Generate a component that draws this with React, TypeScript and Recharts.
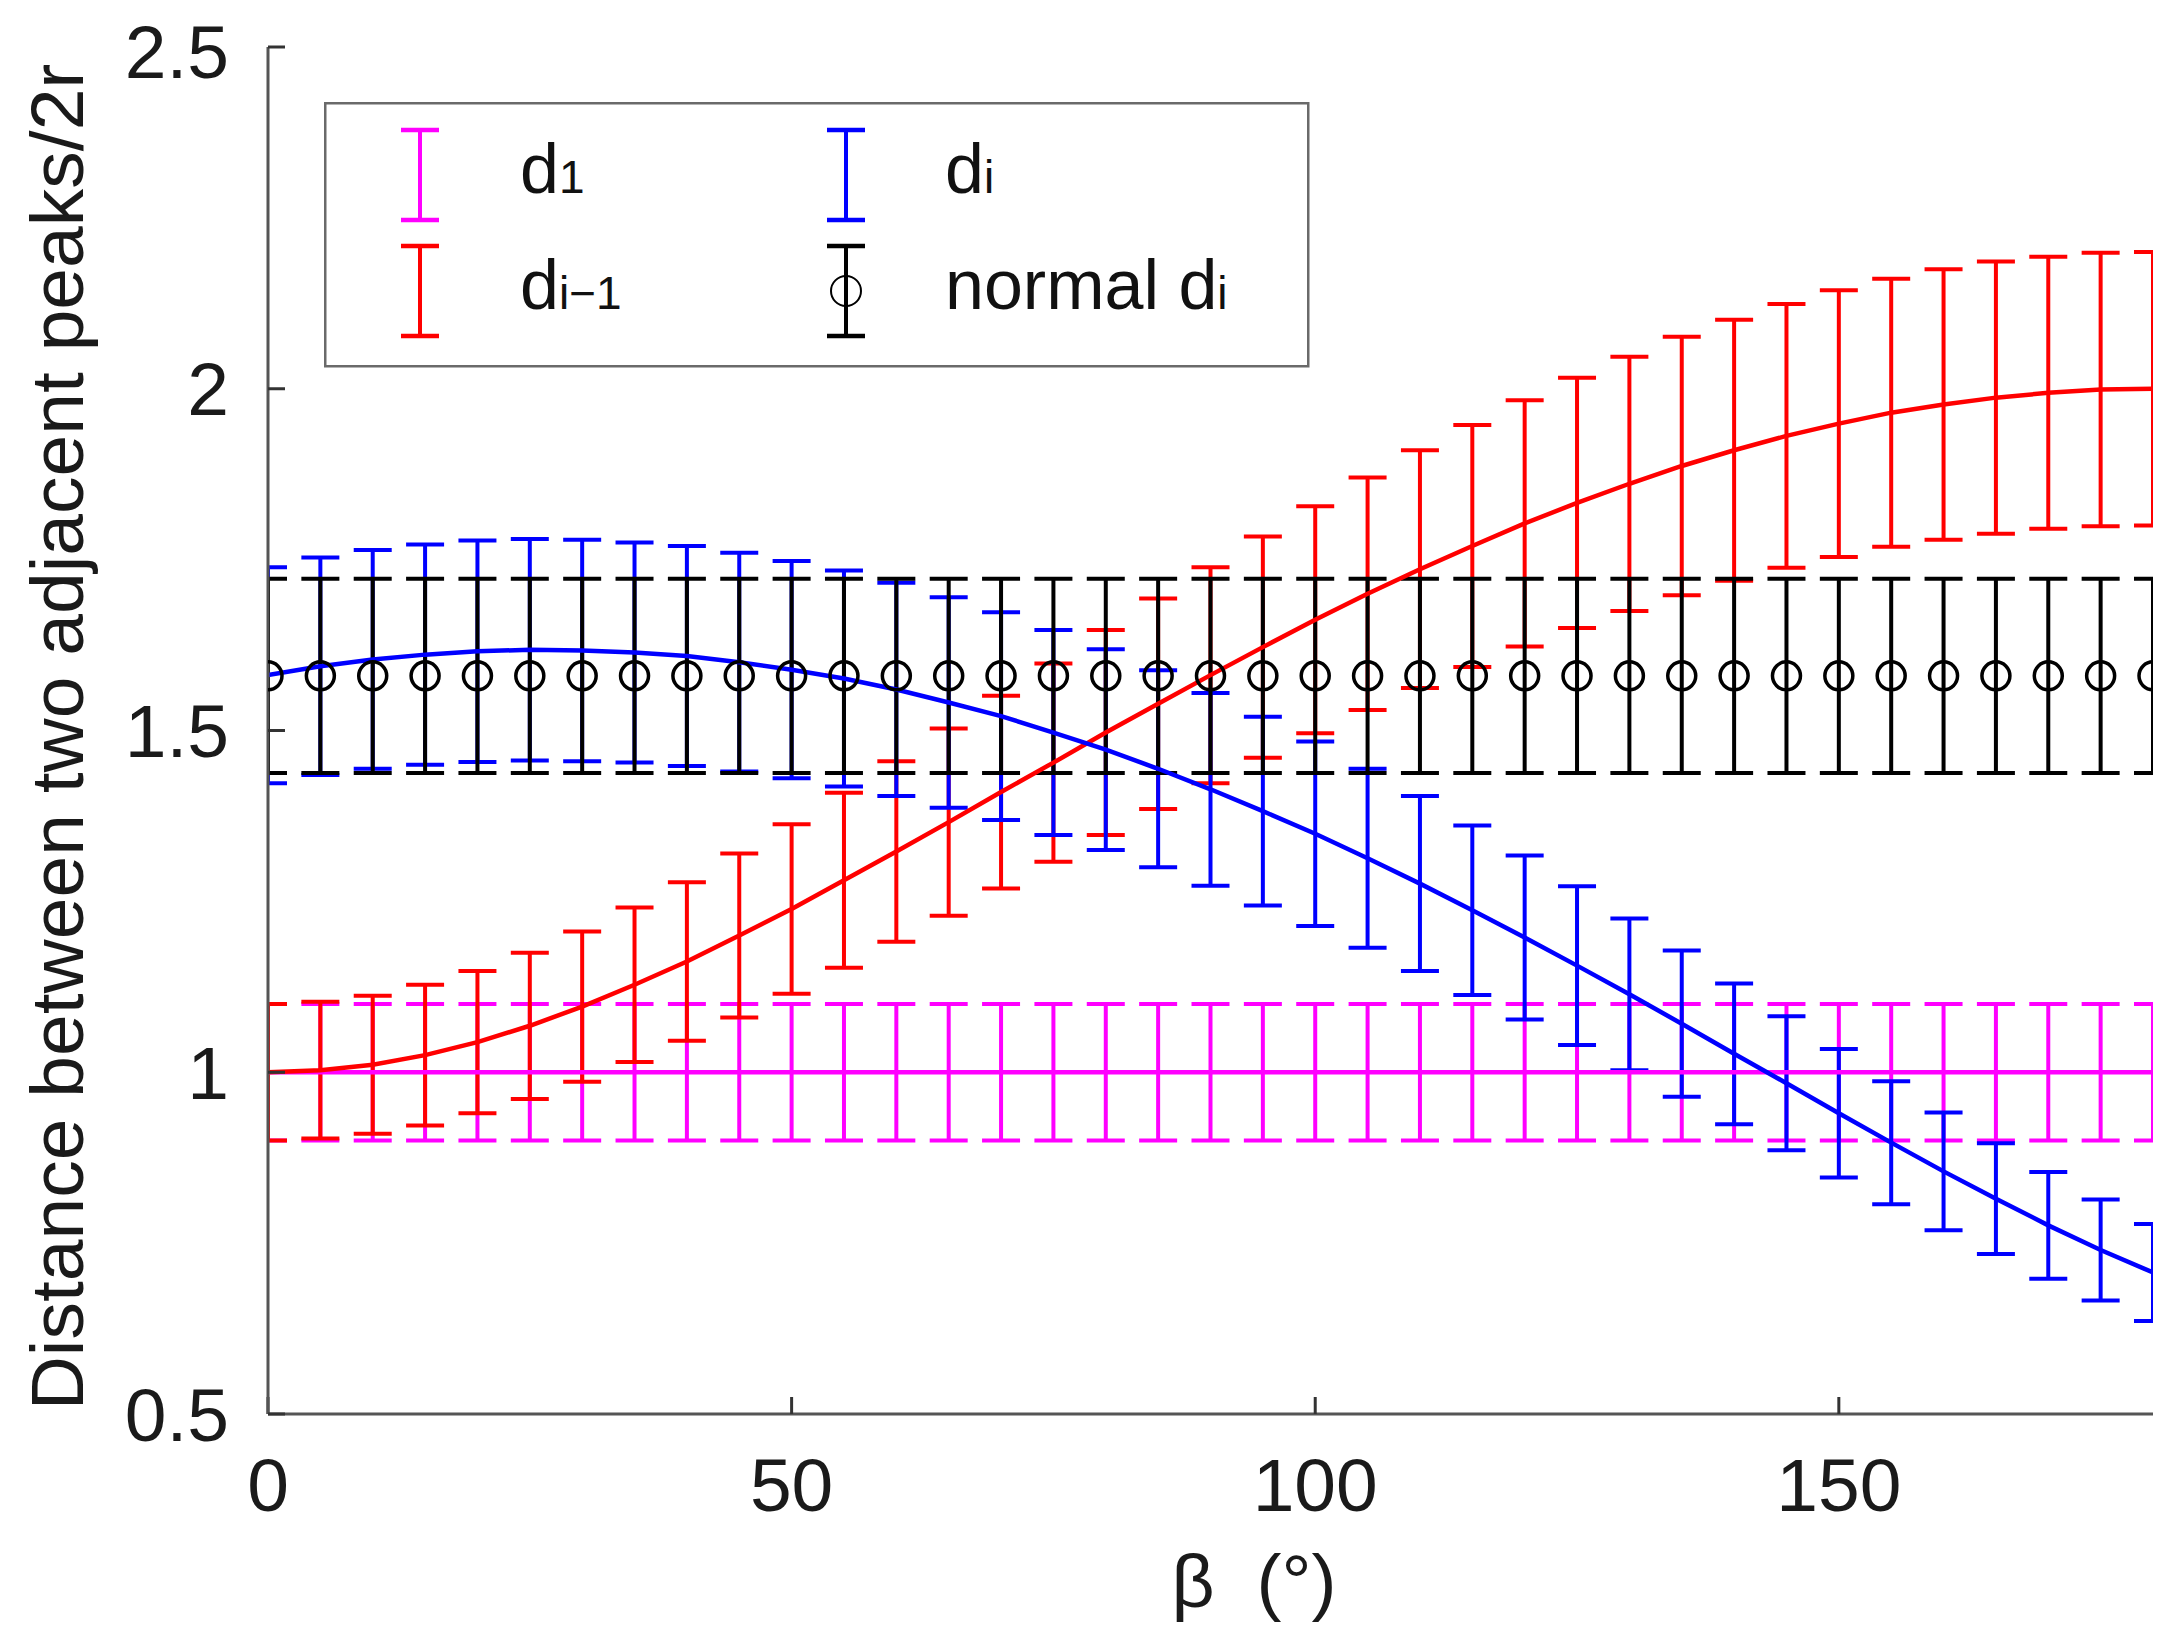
import React from 'react';
import { ComposedChart, Line, XAxis, YAxis, ErrorBar, Legend, Label } from 'recharts';

// beta (degrees), one point every 5°
const betas = [0, 5, 10, 15, 20, 25, 30, 35, 40, 45, 50, 55, 60, 65, 70, 75, 80, 85, 90, 95, 100, 105, 110, 115, 120, 125, 130, 135, 140, 145, 150, 155, 160, 165, 170, 175, 180];

// d1 (magenta)
const d1 = [1, 1, 1, 1, 1, 1, 1, 1, 1, 1, 1, 1, 1, 1, 1, 1, 1, 1, 1, 1, 1, 1, 1, 1, 1, 1, 1, 1, 1, 1, 1, 1, 1, 1, 1, 1, 1];
const d1Err = [0.1, 0.1, 0.1, 0.1, 0.1, 0.1, 0.1, 0.1, 0.1, 0.1, 0.1, 0.1, 0.1, 0.1, 0.1, 0.1, 0.1, 0.1, 0.1, 0.1, 0.1, 0.1, 0.1, 0.1, 0.1, 0.1, 0.1, 0.1, 0.1, 0.1, 0.1, 0.1, 0.1, 0.1, 0.1, 0.1, 0.1];

// d(i-1) (red)
const dPrev = [1.0, 1.003, 1.011, 1.025, 1.044, 1.068, 1.096, 1.128, 1.162, 1.2, 1.239, 1.281, 1.323, 1.366, 1.41, 1.453, 1.497, 1.539, 1.581, 1.622, 1.662, 1.7, 1.736, 1.77, 1.803, 1.833, 1.861, 1.887, 1.91, 1.931, 1.949, 1.965, 1.977, 1.987, 1.994, 1.999, 2.0];
const dPrevErr = [0.1, 0.1, 0.101, 0.103, 0.104, 0.107, 0.11, 0.113, 0.116, 0.12, 0.124, 0.128, 0.132, 0.137, 0.141, 0.145, 0.15, 0.154, 0.158, 0.162, 0.166, 0.17, 0.174, 0.177, 0.18, 0.183, 0.186, 0.189, 0.191, 0.193, 0.195, 0.196, 0.198, 0.199, 0.199, 0.2, 0.2];

// d(i) (blue)
const dCur = [1.581, 1.594, 1.604, 1.611, 1.616, 1.618, 1.617, 1.614, 1.609, 1.6, 1.589, 1.576, 1.56, 1.541, 1.521, 1.497, 1.472, 1.444, 1.414, 1.382, 1.349, 1.313, 1.276, 1.237, 1.197, 1.156, 1.114, 1.071, 1.027, 0.984, 0.94, 0.897, 0.855, 0.815, 0.776, 0.74, 0.707];
const dCurErr = [0.158, 0.159, 0.16, 0.161, 0.162, 0.162, 0.162, 0.161, 0.161, 0.16, 0.159, 0.158, 0.156, 0.154, 0.152, 0.15, 0.147, 0.144, 0.141, 0.138, 0.135, 0.131, 0.128, 0.124, 0.12, 0.116, 0.111, 0.107, 0.103, 0.098, 0.094, 0.09, 0.086, 0.081, 0.078, 0.074, 0.071];

// normal d(i) (black circles)
const normal = [1.58, 1.58, 1.58, 1.58, 1.58, 1.58, 1.58, 1.58, 1.58, 1.58, 1.58, 1.58, 1.58, 1.58, 1.58, 1.58, 1.58, 1.58, 1.58, 1.58, 1.58, 1.58, 1.58, 1.58, 1.58, 1.58, 1.58, 1.58, 1.58, 1.58, 1.58, 1.58, 1.58, 1.58, 1.58, 1.58, 1.58];
const normalErr = [0.142, 0.142, 0.142, 0.142, 0.142, 0.142, 0.142, 0.142, 0.142, 0.142, 0.142, 0.142, 0.142, 0.142, 0.142, 0.142, 0.142, 0.142, 0.142, 0.142, 0.142, 0.142, 0.142, 0.142, 0.142, 0.142, 0.142, 0.142, 0.142, 0.142, 0.142, 0.142, 0.142, 0.142, 0.142, 0.142, 0.142];

const xTicks = [0, 50, 100, 150];
const yTicks = [0.5, 1, 1.5, 2, 2.5];

const MAGENTA = '#ff00ff';
const RED = '#ff0000';
const BLUE = '#0000ff';
const BLACK = '#000000';

const FONT = '"Liberation Sans", Arial, Helvetica, sans-serif';

// plot area inside the chart svg (used to clip the error bars at the axes)
const PLOT = { x: 260, y: 39, w: 1885, h: 1367 };

const rows = betas.map((b, i) => ({
  beta: b,
  d1: d1[i],
  d1Err: d1Err[i],
  dPrev: dPrev[i],
  dPrevErr: dPrevErr[i],
  dCur: dCur[i],
  dCurErr: dCurErr[i],
  normal: normal[i],
  normalErr: normalErr[i],
}));

const legendItems = [
  { main: 'd', sub: '1', color: MAGENTA, circle: false, col: 0, row: 0 },
  { main: 'd', sub: 'i', color: BLUE, circle: false, col: 1, row: 0 },
  { main: 'd', sub: 'i\u22121', color: RED, circle: false, col: 0, row: 1 },
  { main: 'normal d', sub: 'i', color: BLACK, circle: true, col: 1, row: 1 },
];

const renderLegend = () => {
  const symX = [96, 522];
  const textX = [196, 621];
  const rowY = [73, 189];
  return (
    <svg width={990} height={270} style={{ display: 'block' }}>
      <defs>
        {/* referenced by the error bars of the chart svg (same document) */}
        <clipPath id="plot-area-clip" clipPathUnits="userSpaceOnUse">
          <rect x={PLOT.x} y={PLOT.y} width={PLOT.w} height={PLOT.h} />
        </clipPath>
      </defs>
      <rect x={1.25} y={1.25} width={983} height={263} fill="#fff" stroke="#6a6a6a" strokeWidth={2.5} />
      {legendItems.map((it, i) => {
        const x = symX[it.col];
        const y = rowY[it.row];
        return (
          <g key={i}>
            <line x1={x} y1={y - 45} x2={x} y2={y + 45} stroke={it.color} strokeWidth={4} />
            <line x1={x - 19} y1={y - 45} x2={x + 19} y2={y - 45} stroke={it.color} strokeWidth={4.5} />
            <line x1={x - 19} y1={y + 45} x2={x + 19} y2={y + 45} stroke={it.color} strokeWidth={4.5} />
            {it.circle && <circle cx={x} cy={y} r={15} fill="none" stroke={it.color} strokeWidth={2} />}
            <text x={textX[it.col]} y={y + 18} fontFamily={FONT} fontSize={70} fill="#111">
              {it.main}
              <tspan fontSize={46}>{it.sub}</tspan>
            </text>
          </g>
        );
      })}
    </svg>
  );
};

const axisLine = { stroke: '#555', strokeWidth: 3 };
const tickLine = { stroke: '#333', strokeWidth: 3 };
const tickStyle = { fill: '#1a1a1a', fontSize: 75, fontFamily: FONT };
const CLIP = 'url(#plot-area-clip)';

const App = () => {
  return (
    <div style={{ width: 2166, height: 1633 }}>
      <ComposedChart width={2166} height={1633} data={rows} margin={{ top: 39, right: 21, bottom: 107, left: 0 }}>
        <XAxis
          dataKey="beta"
          type="number"
          domain={[0, 180]}
          ticks={xTicks}
          allowDataOverflow
          height={120}
          tickSize={-17}
          tickMargin={61}
          axisLine={axisLine}
          tickLine={tickLine}
          tick={tickStyle}
        >
          <Label
            content={() => (
              <text x={1246} y={1599} textAnchor="middle" fontFamily={FONT} fontSize={75} fill="#1a1a1a">
                {'\u03b2\u00a0\u00a0(\u00b0)'}
              </text>
            )}
          />
        </XAxis>
        <XAxis
          xAxisId="top"
          orientation="top"
          dataKey="beta"
          type="number"
          domain={[0, 180]}
          ticks={xTicks}
          allowDataOverflow
          height={0}
          tickSize={-17}
          tickFormatter={() => ''}
          axisLine={axisLine}
          tickLine={tickLine}
        />
        <YAxis
          type="number"
          domain={[0.5, 2.5]}
          ticks={yTicks}
          allowDataOverflow
          width={260}
          tickSize={-17}
          tickMargin={56}
          axisLine={axisLine}
          tickLine={tickLine}
          tick={tickStyle}
        >
          <Label
            content={() => (
              <text
                x={0}
                y={0}
                transform="translate(75,729) rotate(-90)"
                textAnchor="middle"
                fontFamily={FONT}
                fontSize={75}
                fill="#1a1a1a"
              >
                Distance between two adjacent peaks/2r
              </text>
            )}
          />
        </YAxis>
        <YAxis
          yAxisId="right"
          orientation="right"
          type="number"
          domain={[0.5, 2.5]}
          ticks={yTicks}
          allowDataOverflow
          width={0}
          tickSize={-17}
          tickFormatter={() => ''}
          axisLine={axisLine}
          tickLine={tickLine}
        />
        <Legend
          content={renderLegend}
          layout="horizontal"
          verticalAlign="middle"
          align="center"
          wrapperStyle={{ left: 316, top: 94, width: 990, height: 270 }}
        />

        {/* error bars */}
        <Line dataKey="d1" stroke="none" dot={false} activeDot={false} isAnimationActive={false}>
          <ErrorBar dataKey="d1Err" width={19} stroke={MAGENTA} strokeWidth={4} direction="y" clipPath={CLIP} isAnimationActive={false} />
        </Line>
        <Line dataKey="dPrev" stroke="none" dot={false} activeDot={false} isAnimationActive={false}>
          <ErrorBar dataKey="dPrevErr" width={19} stroke={RED} strokeWidth={4} direction="y" clipPath={CLIP} isAnimationActive={false} />
        </Line>
        <Line dataKey="dCur" stroke="none" dot={false} activeDot={false} isAnimationActive={false}>
          <ErrorBar dataKey="dCurErr" width={19} stroke={BLUE} strokeWidth={4} direction="y" clipPath={CLIP} isAnimationActive={false} />
        </Line>
        <Line
          dataKey="normal"
          stroke="none"
          dot={{ r: 14, fill: 'none', stroke: BLACK, strokeWidth: 3.5 }}
          activeDot={false}
          isAnimationActive={false}
        >
          <ErrorBar dataKey="normalErr" width={19} stroke={BLACK} strokeWidth={4} direction="y" clipPath={CLIP} isAnimationActive={false} />
        </Line>

        {/* curves */}
        <Line dataKey="d1" stroke={MAGENTA} strokeWidth={4.5} dot={false} activeDot={false} isAnimationActive={false} />
        <Line dataKey="dPrev" stroke={RED} strokeWidth={4.5} dot={false} activeDot={false} isAnimationActive={false} />
        <Line dataKey="dCur" stroke={BLUE} strokeWidth={4.5} dot={false} activeDot={false} isAnimationActive={false} />
      </ComposedChart>
    </div>
  );
};

export default App;
